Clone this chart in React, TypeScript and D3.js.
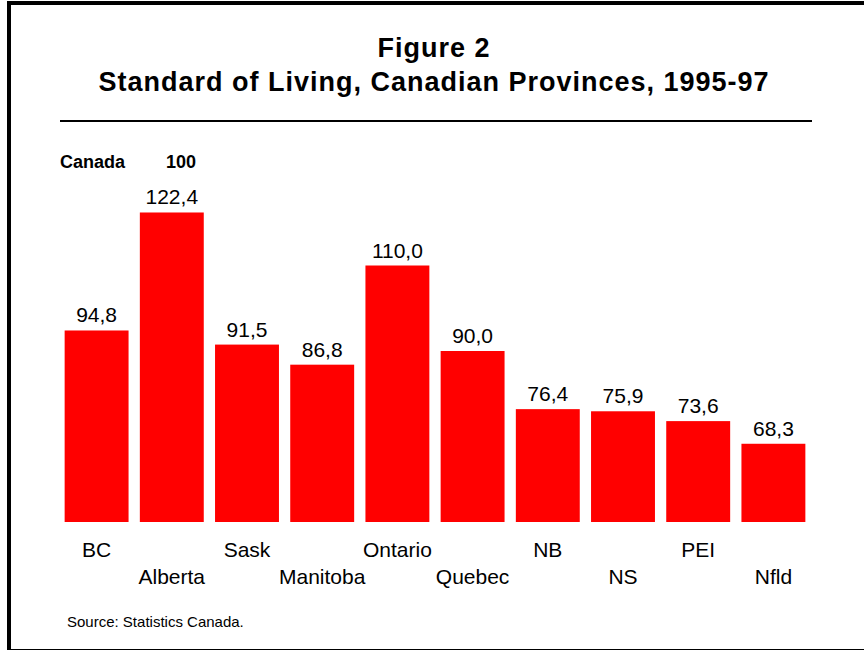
import React, { useEffect, useRef } from 'react';
import * as d3 from 'd3';

const provinces: string[] = ['BC', 'Alberta', 'Sask', 'Manitoba', 'Ontario', 'Quebec', 'NB', 'NS', 'PEI', 'Nfld'];
const livingIndex: number[] = [94.8, 122.4, 91.5, 86.8, 110.0, 90.0, 76.4, 75.9, 73.6, 68.3];
const titleLines: string[] = ['Figure 2', 'Standard of Living, Canadian Provinces, 1995-97'];
const baseNote: string[] = ['Canada', '100'];
const sourceNote = 'Source: Statistics Canada.';

const FONT = '"Liberation Sans", Arial, sans-serif';

const App: React.FC = () => {
  const svgRef = useRef<SVGSVGElement | null>(null);

  useEffect(() => {
    if (!svgRef.current) return;
    const W = 864;
    const H = 650;

    const svg = d3.select(svgRef.current);
    svg.selectAll('*').remove();
    svg.attr('width', W).attr('height', H).style('font-family', FONT);

    svg.append('rect').attr('width', W).attr('height', H).attr('fill', '#fff');

    // frame (right side runs off the picture)
    svg
      .append('rect')
      .attr('x', 9)
      .attr('y', 3)
      .attr('width', 880)
      .attr('height', 648)
      .attr('fill', 'none')
      .attr('stroke', '#000')
      .attr('stroke-width', 4);

    // title
    svg
      .selectAll('.title')
      .data(titleLines)
      .enter()
      .append('text')
      .attr('x', 434)
      .attr('y', (_, i) => (i === 0 ? 57 : 91))
      .attr('text-anchor', 'middle')
      .attr('font-weight', 'bold')
      .attr('font-size', 27)
      .attr('letter-spacing', 1)
      .attr('fill', '#000')
      .text((d) => d);

    svg
      .append('line')
      .attr('x1', 60)
      .attr('x2', 812)
      .attr('y1', 121)
      .attr('y2', 121)
      .attr('stroke', '#000')
      .attr('stroke-width', 2);

    // Canada = 100 note
    svg
      .selectAll('.note')
      .data(baseNote)
      .enter()
      .append('text')
      .attr('x', (_, i) => (i === 0 ? 60 : 166))
      .attr('y', 168)
      .attr('font-weight', 'bold')
      .attr('font-size', 18)
      .attr('fill', '#000')
      .text((d) => d);

    const x = d3
      .scaleBand<string>()
      .domain(provinces)
      .range([59, 811])
      .paddingInner(0.15)
      .paddingOuter(0.075);

    const y = d3.scaleLinear().domain([50, 130]).range([522, 180]);

    const data = provinces.map((p, i) => ({ p, v: livingIndex[i] }));
    const fmt = d3.formatLocale({ decimal: ',', thousands: '.', grouping: [3], currency: ['', ''] }).format('.1f');

    svg
      .selectAll('.bar')
      .data(data)
      .enter()
      .append('rect')
      .attr('x', (d) => x(d.p) || 0)
      .attr('y', (d) => y(d.v))
      .attr('width', x.bandwidth())
      .attr('height', (d) => y(50) - y(d.v))
      .attr('fill', '#ff0000');

    svg
      .selectAll('.val')
      .data(data)
      .enter()
      .append('text')
      .attr('x', (d) => (x(d.p) || 0) + x.bandwidth() / 2)
      .attr('y', (d) => y(d.v) - 8)
      .attr('text-anchor', 'middle')
      .attr('font-size', 21)
      .attr('fill', '#000')
      .text((d) => fmt(d.v));

    // category labels, staggered in two rows
    svg
      .selectAll('.cat')
      .data(provinces)
      .enter()
      .append('text')
      .attr('x', (d) => (x(d) || 0) + x.bandwidth() / 2)
      .attr('y', (_, i) => (i % 2 === 0 ? 557 : 584))
      .attr('text-anchor', 'middle')
      .attr('font-size', 21)
      .attr('fill', '#000')
      .text((d) => d);

    svg
      .append('text')
      .attr('x', 67)
      .attr('y', 627)
      .attr('font-size', 15)
      .attr('fill', '#000')
      .text(sourceNote);
  }, []);

  return <svg ref={svgRef} style={{ position: 'absolute', left: 0, top: 0, display: 'block' }} />;
};

export default App;
